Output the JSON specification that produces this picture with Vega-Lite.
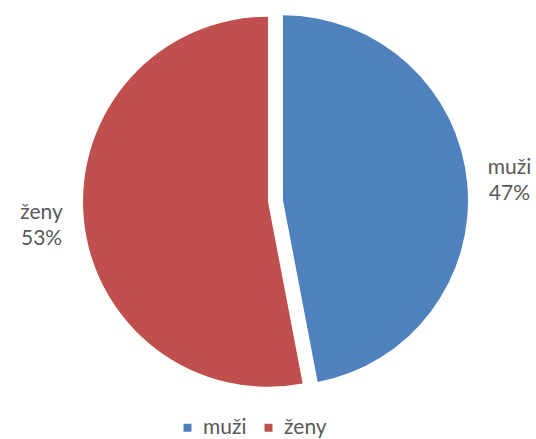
{
  "$schema": "https://vega.github.io/schema/vega-lite/v6.json",
  "width": 521,
  "height": 402,
  "autosize": {"type": "none"},
  "padding": {"left": 15, "top": 0, "right": 0, "bottom": 37},
  "background": "white",
  "config": {"view": {"stroke": null}, "font": "Lato"},
  "data": {"values": [
    {"category": "muži", "share": 0.47},
    {"category": "ženy", "share": 0.53}
  ]},
  "transform": [{"stack": "share", "groupby": [], "as": ["s0", "s1"]}],
  "layer": [
    {
      "transform": [{"filter": "datum.category === 'muži'"}],
      "mark": {"type": "arc", "outerRadius": 185, "xOffset": 7.5, "yOffset": -0.7},
      "encoding": {
        "theta": {"field": "s0", "type": "quantitative", "scale": {"domain": [0, 1]}},
        "theta2": {"field": "s1"},
        "color": {"field": "category", "type": "nominal",
          "scale": {"domain": ["muži", "ženy"], "range": ["#4F81BD", "#C0504D"]},
          "legend": {"orient": "none", "legendX": 162, "legendY": 417, "direction": "horizontal", "title": null,
            "symbolType": "square", "symbolSize": 64, "symbolStrokeWidth": 0, "labelFontSize": 21,
            "labelColor": "#595959", "labelFont": "Lato", "labelOffset": 5, "columnPadding": 11, "padding": 0}}
      }
    },
    {
      "transform": [{"filter": "datum.category === 'ženy'"}],
      "mark": {"type": "arc", "outerRadius": 185, "xOffset": -7.5, "yOffset": 0.7},
      "encoding": {
        "theta": {"field": "s0", "type": "quantitative", "scale": {"domain": [0, 1]}},
        "theta2": {"field": "s1"},
        "color": {"field": "category", "type": "nominal"}
      }
    },
    {
      "mark": {"type": "text", "radius": 235, "dy": -10.5, "fontSize": 21, "color": "#595959", "font": "Lato", "align": "center", "baseline": "middle"},
      "encoding": {
        "theta": {"field": "share", "type": "quantitative", "stack": true},
        "text": {"field": "category", "type": "nominal"}
      }
    },
    {
      "mark": {"type": "text", "radius": 235, "dy": 15.5, "fontSize": 21, "color": "#595959", "font": "Lato", "align": "center", "baseline": "middle"},
      "encoding": {
        "theta": {"field": "share", "type": "quantitative", "stack": true},
        "text": {"field": "share", "type": "quantitative", "format": ".0%"}
      }
    }
  ]
}
